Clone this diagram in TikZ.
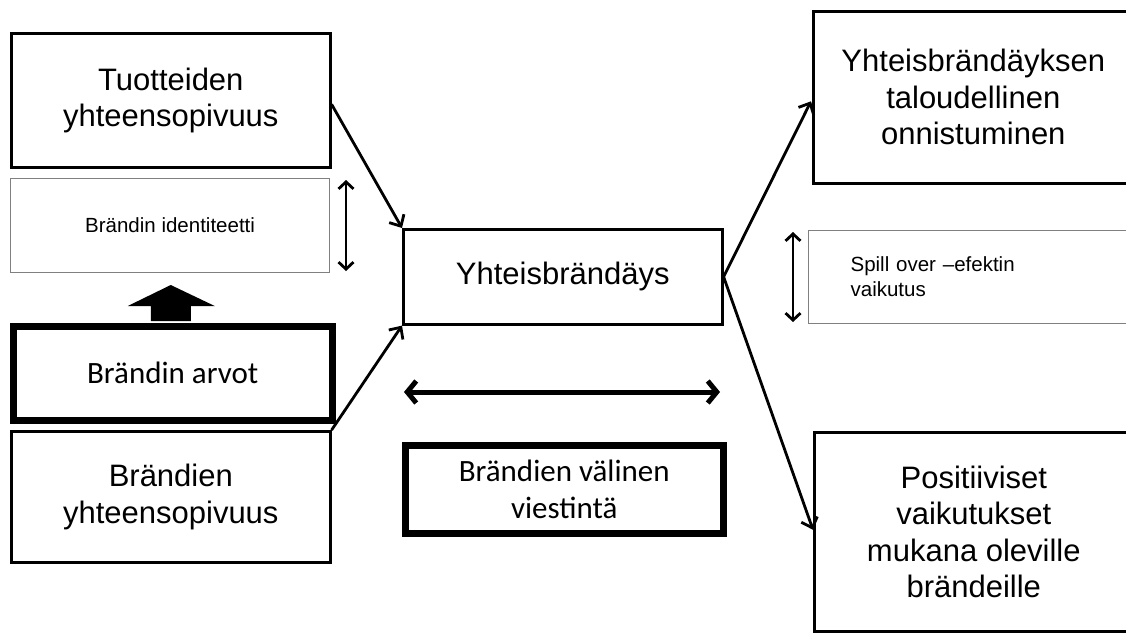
\documentclass[tikz,border=0pt]{standalone}
\usepackage{fontspec}
\setmainfont{Liberation Sans}
\newfontfamily\calfont{Carlito}
\usetikzlibrary{arrows.meta,calc}

\begin{document}
\begin{tikzpicture}[x=1pt,y=-1pt,
  box/.style={draw=black, line width=2.6pt, fill=white, anchor=north west,
    inner sep=0pt, align=center, font=\fontsize{31}{36.5}\selectfont},
  thinbox/.style={draw=black!50, line width=1.2pt, fill=white, anchor=north west,
    inner sep=0pt, font=\fontsize{20.5}{25}\selectfont},
  heavybox/.style={draw=black, line width=6.5pt, fill=white, anchor=north west,
    inner sep=0pt, align=center, font=\calfont\fontsize{31}{36.5}\selectfont},
  link/.style={line width=2.8pt, -{Straight Barb[length=9pt,width=17pt]}},
  twoway/.style={line width=2.8pt, {Straight Barb[length=7pt,width=15pt]}-{Straight Barb[length=7pt,width=15pt]}},
  wideway/.style={line width=5pt, {Straight Barb[length=9pt,width=22pt]}-{Straight Barb[length=9pt,width=22pt]}}
]
\useasboundingbox (0,0) rectangle (1126,632);
\clip (0,0) rectangle (1126,632);

% left column
\node[box, minimum width=319pt, minimum height=134pt] (tuot) at (10,32)
  {Tuotteiden\\yhteensopivuus};
\node[thinbox, minimum width=319pt, minimum height=94pt] (ident) at (10,178)
  {Brändin identiteetti};
\node[heavybox, minimum width=319pt, minimum height=94pt] (arvot) at (10,323)
  {Brändin arvot};
\node[box, minimum width=319pt, minimum height=131pt] (byht) at (10,430)
  {Brändien\\yhteensopivuus};

% centre column
\node[box, minimum width=319pt, minimum height=95pt] (yb) at (402,228)
  {Yhteisbrändäys};
\node[heavybox, minimum width=318pt, minimum height=88pt] (vv) at (402,442)
  {Brändien välinen\\viestintä};

% right column
\node[box, minimum width=320pt, minimum height=172pt] (yt) at (812,10)
  {Yhteisbrändäyksen\\taloudellinen\\onnistuminen};
\node[thinbox, minimum width=324pt, minimum height=93pt, text width=240pt,
  inner xsep=42pt, align=left] (spill) at (808,230)
  {Spill over –efektin\\vaikutus};
\node[box, minimum width=319pt, minimum height=199pt] (pos) at (813,431)
  {Positiiviset\\vaikutukset\\mukana oleville\\brändeille};

% block arrow from values up to identity
\fill[black] ($(arvot.north)+(-22,-2)$) -- ++(0,-15) -- ++(-23,0)
  -- ($(arvot.north)+(-2,-38)$) -- ($(arvot.north)+(42,-17)$)
  -- ++(-24,0) -- ++(0,15) -- cycle;

% connectors
\draw[link] (tuot.east) ++(0,4) -- (yb.north west);
\draw[link] (byht.north east) -- (yb.south west);
\draw[link] (yb.east) -- ($(yt.west)+(-1,4)$);
\draw[link] (yb.east) -- ($(pos.west)+(0,-2)$);

% two-way arrows
\coordinate (ia) at (346,180);
\coordinate (ib) at (346,271);
\draw[twoway] (ia) -- (ib);
\coordinate (sa) at (793,232);
\coordinate (sb) at (793,322);
\draw[twoway] (sa) -- (sb);
\coordinate (ha) at (404,392);
\coordinate (hb) at (720,392);
\draw[wideway] (ha) -- (hb);
\end{tikzpicture}
\end{document}
